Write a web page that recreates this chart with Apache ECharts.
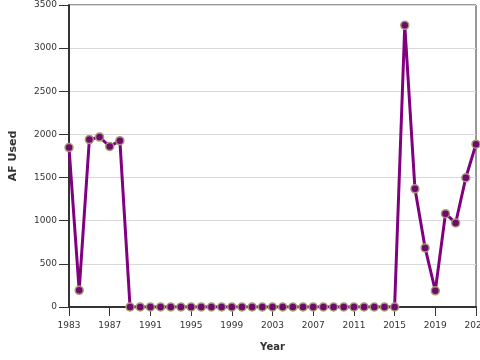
<!DOCTYPE html>
<html>
<head>
<meta charset="utf-8">
<script src="https://cdn.jsdelivr.net/npm/echarts@6/dist/echarts.min.js"></script>
<style>html,body{margin:0;padding:0;background:#fff}#c{width:480px;height:360px}</style>
</head>
<body>
<div id="c"></div>
<script>
const years = [];
for (let y = 1983; y <= 2023; y++) years.push(String(y));
const afUsed = [1848, 193, 1940, 1970, 1860, 1928,
  0, 0, 0, 0, 0, 0, 0, 0, 0, 0, 0, 0, 0, 0, 0, 0, 0, 0, 0, 0, 0, 0, 0, 0, 0, 0, 0,
  3265, 1370, 685, 188, 1082, 974, 1498, 1887];
const yTicks = [0, 500, 1000, 1500, 2000, 2500, 3000, 3500];

const chart = echarts.init(document.getElementById('c'), null, {renderer: 'canvas'});
const font = 'DejaVu Sans';
chart.setOption({
  animation: false,
  backgroundColor: '#fff',
  grid: {left: 69, right: 4, top: 5, bottom: 53, show: true, borderColor: '#333', borderWidth: 1, containLabel: false, outerBoundsMode: 'none'},
  xAxis: {
    type: 'category',
    data: years,
    boundaryGap: false,
    name: 'Year',
    nameLocation: 'middle',
    nameGap: 35,
    nameTextStyle: {fontFamily: font, fontWeight: 'bold', fontSize: 10, color: '#333'},
    axisLine: {lineStyle: {color: '#333', width: 2}},
    axisTick: {interval: 3, length: 9, lineStyle: {color: '#333', width: 1}},
    axisLabel: {interval: 3, fontFamily: font, fontSize: 9, color: '#333', margin: 14},
    splitLine: {show: false}
  },
  yAxis: {
    type: 'value',
    min: yTicks[0],
    max: yTicks[yTicks.length - 1],
    interval: 500,
    name: 'AF Used',
    nameLocation: 'middle',
    nameGap: 50,
    nameTextStyle: {fontFamily: font, fontWeight: 'bold', fontSize: 11, color: '#333'},
    axisLine: {show: true, lineStyle: {color: '#333', width: 2}},
    axisTick: {show: true, length: 10, lineStyle: {color: '#333', width: 1}},
    axisLabel: {fontFamily: font, fontSize: 9, color: '#333', margin: 12, formatter: v => String(v)},
    splitLine: {show: true, lineStyle: {color: '#d9d9d9', width: 1}}
  },
  series: [{
    type: 'line',
    data: afUsed,
    symbol: 'circle',
    symbolSize: 8,
    showAllSymbol: true,
    lineStyle: {color: '#800080', width: 3},
    itemStyle: {color: '#6e0a6e', borderColor: '#a89a72', borderWidth: 1.5},
    emphasis: {disabled: true}
  }]
});
</script>
</body>
</html>
